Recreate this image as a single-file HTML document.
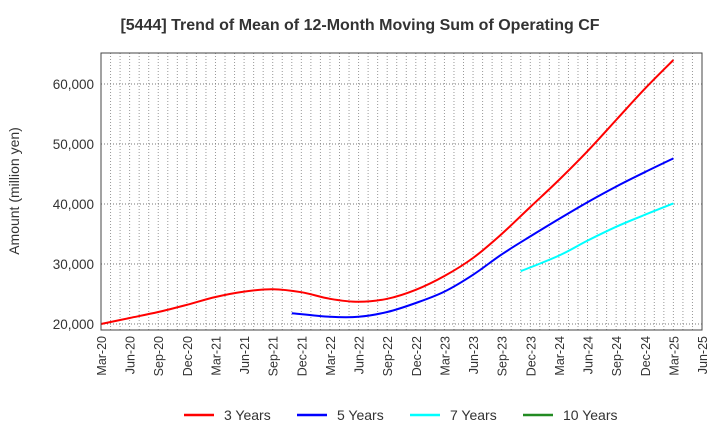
<!DOCTYPE html>
<html><head><meta charset="utf-8"><style>
body{margin:0;background:#fff;font-family:"Liberation Sans",sans-serif;}
svg text{font-family:"Liberation Sans",sans-serif;fill:#333;}
</style></head><body>
<svg id="chart" width="720" height="440" xmlns="http://www.w3.org/2000/svg">
<text x="360" y="30" text-anchor="middle" font-size="16" font-weight="bold">[5444]  Trend of Mean of 12-Month Moving Sum of Operating CF</text>
<text transform="translate(19,191) rotate(-90)" text-anchor="middle" font-size="14">Amount (million yen)</text>
<g id="grid"></g><g id="series"></g><g id="axes"></g>
<g>
<line x1="184" y1="415" x2="214" y2="415" stroke="#ff0000" stroke-width="2.5"/><text x="224" y="420" font-size="14">3 Years</text>
<line x1="297" y1="415" x2="327" y2="415" stroke="#0000ff" stroke-width="2.5"/><text x="337" y="420" font-size="14">5 Years</text>
<line x1="410" y1="415" x2="440" y2="415" stroke="#00ffff" stroke-width="2.5"/><text x="450" y="420" font-size="14">7 Years</text>
<line x1="523" y1="415" x2="553" y2="415" stroke="#228b22" stroke-width="2.5"/><text x="563" y="420" font-size="14">10 Years</text>
</g>
</svg>
<script>
const xLabels=["Mar-20","Jun-20","Sep-20","Dec-20","Mar-21","Jun-21","Sep-21","Dec-21","Mar-22","Jun-22","Sep-22","Dec-22","Mar-23","Jun-23","Sep-23","Dec-23","Mar-24","Jun-24","Sep-24","Dec-24","Mar-25","Jun-25"];
const yTicks=[20000,30000,40000,50000,60000];
const y3=[20000,21000,22000,23200,24500,25400,25800,25300,24200,23700,24200,25700,28000,31000,35000,39500,44000,48800,54000,59200,64000];
const y5=[null,null,null,null,null,null,null,21800,21200,21200,22000,23500,25400,28200,31600,34600,37500,40300,42900,45300,47600];
const y7=[null,null,null,null,null,null,null,null,null,null,null,null,null,null,null,28800,31400,33900,36200,38200,40100];
const y10=[];
const L=101,R=702,T=53,B=330,YMIN=19000,YMAX=65170;
const NS="http://www.w3.org/2000/svg";
const xq=i=>L+(R-L)*i/(xLabels.length-1);
const ys=v=>B-(v-YMIN)/(YMAX-YMIN)*(B-T);
function mk(tag,attrs,parent){const e=document.createElementNS(NS,tag);for(const k in attrs)e.setAttribute(k,attrs[k]);document.getElementById(parent).appendChild(e);return e;}
const months=(xLabels.length-1)*3;
for(let m=1;m<months;m++){const x=L+(R-L)*m/months;
const g=mk('line',{x1:x,x2:x,y1:T,y2:B,stroke:'#999','stroke-dasharray':'1,2','stroke-width':1},'grid');

}
yTicks.forEach(v=>{const y=ys(v);
const g=mk('line',{x1:L,x2:R,y1:y,y2:y,stroke:'#777','stroke-dasharray':'1,2','stroke-width':1},'grid');


const t=mk('text',{x:L-7,y:y+5,'text-anchor':'end','font-size':13.5},'axes');t.textContent=v.toLocaleString('en-US');

});
xLabels.forEach((s,i)=>{const x=xq(i);
const t=mk('text',{transform:`translate(${x+5},336) rotate(-90)`,'text-anchor':'end','font-size':12.5},'axes');t.textContent=s;

});
const fr=mk('rect',{x:L,y:T,width:R-L,height:B-T,fill:'none',stroke:'#444','stroke-width':1},'axes');


function line(arr,color,name,startShift){
  const pts=[];let first=true;
  arr.forEach((v,i)=>{if(v==null)return;let xi=i;if(first){xi=i+startShift;first=false;}pts.push([xq(xi),ys(v)]);});
  if(pts.length<2)return;
  let d='M'+pts[0][0].toFixed(1)+','+pts[0][1].toFixed(1);
  for(let k=0;k<pts.length-1;k++){const p0=pts[k-1]||pts[k],p1=pts[k],p2=pts[k+1],p3=pts[k+2]||p2;
    const c1=[p1[0]+(p2[0]-p0[0])/6,p1[1]+(p2[1]-p0[1])/6],c2=[p2[0]-(p3[0]-p1[0])/6,p2[1]-(p3[1]-p1[1])/6];
    d+=`C${c1[0].toFixed(1)},${c1[1].toFixed(1)} ${c2[0].toFixed(1)},${c2[1].toFixed(1)} ${p2[0].toFixed(1)},${p2[1].toFixed(1)}`;}
  const p=mk('path',{d:d,fill:'none',stroke:color,'stroke-width':2,'stroke-linejoin':'round'},'series');
  
  }
line(y3,'#ff0000','series-3-years',0);
line(y5,'#0000ff','series-5-years',-1/3);
line(y7,'#00ffff','series-7-years',-1/3);
line(y10,'#228b22','series-10-years',0);
</script>
</body></html>
